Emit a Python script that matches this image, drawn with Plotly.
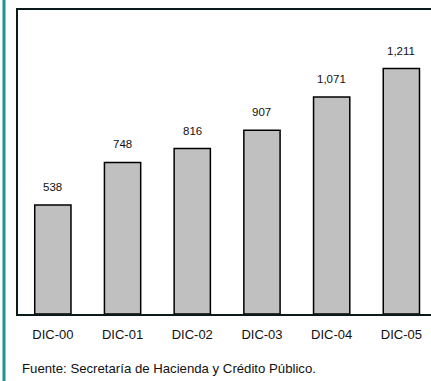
import plotly.graph_objects as go

# Data
categories = ["DIC-00", "DIC-01", "DIC-02", "DIC-03", "DIC-04", "DIC-05"]
values = [538, 748, 816, 907, 1071, 1211]
value_labels = ["538", "748", "816", "907", "1,071", "1,211"]
source_note = "Fuente: Secretaría de Hacienda y Crédito Público."

W, H = 431, 381
ML, MR, MT, MB = 18, 0, 10, 67
PW = W - ML - MR
PH = H - MT - MB

FONT = "Liberation Sans, Arial, sans-serif"

fig = go.Figure()
fig.add_trace(go.Bar(
    x=list(range(len(categories))),
    y=values,
    width=0.52,
    marker=dict(color="#c0c0c0", line=dict(color="#000000", width=1.5)),
    hoverinfo="skip",
))

# Value labels above each bar
for i, (v, t) in enumerate(zip(values, value_labels)):
    fig.add_annotation(
        x=i, y=v, text=t, showarrow=False,
        xanchor="center", yanchor="bottom", yshift=10,
        font=dict(family=FONT, size=11.5, color="#111111"),
    )

# Source note below the chart
fig.add_annotation(
    xref="paper", yref="paper",
    x=(20 - ML) / PW, y=-(368.5 - (MT + PH)) / PH,
    text=source_note, showarrow=False,
    xanchor="left", yanchor="middle",
    font=dict(family=FONT, size=13.2, color="#111111"),
)

# Teal rule along the left edge of the page
fig.add_shape(
    type="line", xref="paper", yref="paper",
    x0=(4 - ML) / PW, x1=(4 - ML) / PW,
    y0=-(H - MT - PH) / PH - 0.01, y1=1 + MT / PH + 0.01,
    line=dict(color="#1f9494", width=3),
)

fig.update_layout(
    width=W, height=H,
    margin=dict(l=ML, r=MR, t=MT, b=MB, pad=0),
    paper_bgcolor="white", plot_bgcolor="white",
    showlegend=False,
    font=dict(family=FONT, size=12, color="#111111"),
    xaxis=dict(
        range=[-0.5, 5.425],
        tickmode="array",
        tickvals=list(range(len(categories))),
        ticktext=categories,
        showgrid=False, zeroline=False,
        showline=True, linecolor="#0a1a1a", linewidth=2, mirror=True,
        ticks="", ticklen=0,
        ticklabelstandoff=7,
        tickfont=dict(family=FONT, size=13, color="#111111"),
    ),
    yaxis=dict(
        range=[0, 1500],
        showgrid=False, zeroline=False,
        showline=True, linecolor="#0a1a1a", linewidth=2, mirror=False,
        showticklabels=False, ticks="",
    ),
)

fig.write_html("out.html")
